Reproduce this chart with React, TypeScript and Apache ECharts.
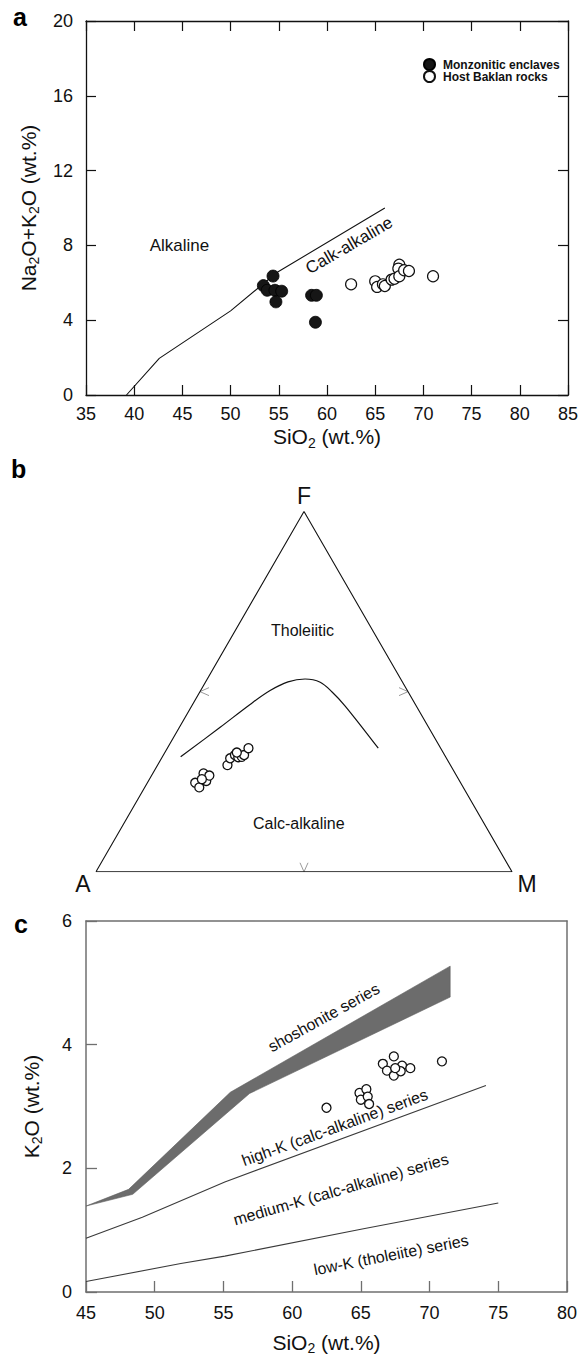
import React, { useEffect, useRef } from "react";
import * as echarts from "echarts";

const FONT = "'Liberation Sans', Arial, Helvetica, sans-serif";
const INK = "#111111";
const FRAME_C = "#6f6f6f";

// ---- Panel a: total alkalis vs silica ----
const enclaveSiO2 = [53.4, 54.4, 53.8, 54.6, 55.3, 54.7, 58.4, 58.9, 58.8];
const enclaveAlkali = [5.85, 6.36, 5.6, 5.6, 5.55, 4.98, 5.33, 5.33, 3.89];
const hostSiO2 = [62.5, 65.0, 65.2, 65.8, 66.0, 66.7, 67.0, 67.5, 67.4, 67.5, 68.0, 68.5, 71.0];
const hostAlkali = [5.92, 6.08, 5.78, 5.92, 5.83, 6.17, 6.22, 6.97, 6.76, 6.35, 6.67, 6.63, 6.35];
const alkalineDivideSiO2 = [39.2, 42.6, 50.0, 54.8, 66.0];
const alkalineDivideAlkali = [0, 1.96, 4.5, 6.55, 10.0];
const siO2TicksA = { min: 35, max: 85, step: 5 };
const alkaliTicks = { min: 0, max: 20, step: 4 };

// ---- Panel b: AFM ternary (A, F, M in %) ----
const afmA = [63.8, 63.4, 60.5, 60.9, 59.4, 61.7, 53.6, 52.0, 50.4, 49.9, 49.0, 48.2, 46.2, 49.6];
const afmF = [24.7, 23.4, 27.3, 25.2, 26.7, 25.7, 29.6, 31.5, 32.4, 31.8, 31.9, 32.4, 34.3, 33.1];
const afmM = [11.5, 13.1, 12.2, 13.9, 13.9, 12.6, 16.8, 16.5, 17.2, 18.3, 19.1, 19.4, 19.5, 17.3];
const afmDivideA = [63.7, 50.1, 39.7, 33.0, 27.5, 23.0, 19.8, 18.3, 17.1, 15.0];
const afmDivideF = [31.9, 40.1, 46.4, 50.3, 52.7, 53.5, 52.6, 49.9, 46.0, 34.3];
const afmDivideM = [4.4, 9.8, 13.8, 16.7, 19.8, 23.5, 27.6, 31.8, 36.9, 50.7];
const afmVertexNames = ["A", "F", "M"];

// ---- Panel c: K2O vs silica ----
const k2oSiO2 = [62.5, 64.9, 65.4, 65.0, 65.5, 65.6, 66.6, 67.4, 66.9, 67.4, 68.0, 67.9, 68.6, 67.5, 70.9];
const k2oValues = [2.98, 3.22, 3.28, 3.11, 3.16, 3.04, 3.69, 3.81, 3.58, 3.5, 3.66, 3.57, 3.62, 3.62, 3.73];
const shoshUpperSiO2 = [45, 48.1, 55.5, 71.5];
const shoshUpperK2O = [1.39, 1.66, 3.23, 5.27];
const shoshLowerSiO2 = [45, 48.4, 56.9, 71.5];
const shoshLowerK2O = [1.39, 1.58, 3.21, 4.77];
const highKSiO2 = [45, 49.1, 55.1, 74.1];
const highKK2O = [0.87, 1.21, 1.78, 3.34];
const lowKSiO2 = [45, 51.9, 55.1, 65.1, 75.0];
const lowKK2O = [0.17, 0.46, 0.58, 1.02, 1.44];
const siO2TicksC = { min: 45, max: 80, step: 5 };
const k2oTicks = { min: 0, max: 6, step: 2 };

const SQ3_2 = Math.sqrt(3) / 2;
const afmToXY = (a: number, f: number, m: number) => {
  const s = a + f + m;
  return [(m + f / 2) / s, (f / s) * SQ3_2];
};
const zip = (xs: number[], ys: number[]) => xs.map((x, i) => [x, ys[i]]);

const axisTitle = (size: number) => ({
  fontSize: size,
  fontFamily: FONT,
  color: INK,
  lineHeight: 26,
  rich: {
    sub: { fontSize: 14, lineHeight: 14, verticalAlign: "bottom", fontFamily: FONT, color: INK },
  },
});

function buildOption() {
  const tickLabel = { fontSize: 18, fontFamily: FONT, color: INK };
  const lineA = { show: true, onZero: false, lineStyle: { color: INK, width: 1.3 } };
  const lineC = { show: true, onZero: false, lineStyle: { color: FRAME_C, width: 1.5 } };
  const tickA = { show: true, inside: true, length: 10, lineStyle: { color: INK, width: 1.2 } };
  const tickC = { show: true, inside: true, length: 11, lineStyle: { color: FRAME_C, width: 1.3 } };

  const triangle = [
    afmToXY(100, 0, 0),
    afmToXY(0, 0, 100),
    afmToXY(0, 100, 0),
    afmToXY(100, 0, 0),
  ];
  const midpoints = [afmToXY(50, 50, 0), afmToXY(0, 50, 50), afmToXY(50, 0, 50)];
  const inward = [
    [1, 0],
    [-1, 0],
    [0, -1],
  ];

  const textA = (text: string, x: number, y: number, size: number, rotate = 0) => ({
    value: [x, y],
    label: { formatter: text, fontSize: size, rotate },
  });
  const labelSeriesBase = {
    type: "scatter",
    symbolSize: 1,
    itemStyle: { color: "rgba(0,0,0,0)", opacity: 1 },
    silent: true,
    z: 6,
  };

  return {
    animation: false,
    backgroundColor: "#ffffff",
    textStyle: { fontFamily: FONT },
    grid: [
      { left: 86, top: 21, width: 482, height: 374 },
      { left: 96, top: 511.5, width: 416, height: 416 * SQ3_2 },
      { left: 86, top: 921, width: 481, height: 373 },
    ],
    legend: {
      show: true,
      orient: "vertical",
      left: 418,
      top: 53,
      itemWidth: 11,
      itemHeight: 11,
      itemGap: -1,
      icon: "circle",
      selectedMode: false,
      data: ["Monzonitic enclaves", "Host Baklan rocks"],
      textStyle: { fontSize: 12, fontWeight: "bold", fontFamily: FONT, color: INK, padding: [0, 0, 0, 3] },
    },
    xAxis: [
      {
        gridIndex: 0,
        type: "value",
        position: "bottom",
        min: siO2TicksA.min,
        max: siO2TicksA.max,
        interval: siO2TicksA.step,
        axisLine: lineA,
        axisTick: tickA,
        splitLine: { show: false },
        axisLabel: { ...tickLabel, margin: 10 },
        name: "SiO{sub|2} (wt.%)",
        nameLocation: "middle",
        nameGap: 24,
        nameTextStyle: axisTitle(21),
      },
      {
        gridIndex: 0,
        type: "value",
        position: "top",
        min: siO2TicksA.min,
        max: siO2TicksA.max,
        interval: siO2TicksA.step,
        axisLine: lineA,
        axisTick: tickA,
        splitLine: { show: false },
        axisLabel: { show: false },
      },
      { gridIndex: 1, type: "value", min: 0, max: 1, show: false },
      {
        gridIndex: 2,
        type: "value",
        position: "bottom",
        min: siO2TicksC.min,
        max: siO2TicksC.max,
        interval: siO2TicksC.step,
        axisLine: lineC,
        axisTick: tickC,
        splitLine: { show: false },
        axisLabel: { ...tickLabel, margin: 12 },
        name: "SiO{sub|2} (wt.%)",
        nameLocation: "middle",
        nameGap: 37,
        nameTextStyle: axisTitle(21),
      },
      {
        gridIndex: 2,
        type: "value",
        position: "top",
        min: siO2TicksC.min,
        max: siO2TicksC.max,
        axisLine: lineC,
        axisTick: { show: false },
        splitLine: { show: false },
        axisLabel: { show: false },
      },
    ],
    yAxis: [
      {
        gridIndex: 0,
        type: "value",
        position: "left",
        min: alkaliTicks.min,
        max: alkaliTicks.max,
        interval: alkaliTicks.step,
        axisLine: lineA,
        axisTick: tickA,
        splitLine: { show: false },
        axisLabel: { ...tickLabel, margin: 13 },
        name: "Na{sub|2}O+K{sub|2}O (wt.%)",
        nameLocation: "middle",
        nameGap: 45,
        nameTextStyle: axisTitle(21),
      },
      {
        gridIndex: 0,
        type: "value",
        position: "right",
        min: alkaliTicks.min,
        max: alkaliTicks.max,
        interval: alkaliTicks.step,
        axisLine: lineA,
        axisTick: tickA,
        splitLine: { show: false },
        axisLabel: { show: false },
      },
      { gridIndex: 1, type: "value", min: 0, max: SQ3_2, show: false },
      {
        gridIndex: 2,
        type: "value",
        position: "left",
        min: k2oTicks.min,
        max: k2oTicks.max,
        interval: k2oTicks.step,
        axisLine: lineC,
        axisTick: tickC,
        splitLine: { show: false },
        axisLabel: { ...tickLabel, margin: 14 },
        name: "K{sub|2}O (wt.%)",
        nameLocation: "middle",
        nameGap: 42,
        nameTextStyle: axisTitle(21),
      },
      {
        gridIndex: 2,
        type: "value",
        position: "right",
        min: k2oTicks.min,
        max: k2oTicks.max,
        axisLine: lineC,
        axisTick: { show: false },
        splitLine: { show: false },
        axisLabel: { show: false },
      },
    ],
    series: [
      // panel a
      {
        type: "line",
        xAxisIndex: 0,
        yAxisIndex: 0,
        data: zip(alkalineDivideSiO2, alkalineDivideAlkali),
        symbol: "none",
        lineStyle: { color: INK, width: 1.1 },
        silent: true,
      },
      {
        name: "Monzonitic enclaves",
        type: "scatter",
        xAxisIndex: 0,
        yAxisIndex: 0,
        data: zip(enclaveSiO2, enclaveAlkali),
        symbol: "circle",
        symbolSize: 12,
        itemStyle: { color: "#161616", borderColor: "#000", borderWidth: 0.8, opacity: 1 },
        z: 4,
      },
      {
        name: "Host Baklan rocks",
        type: "scatter",
        xAxisIndex: 0,
        yAxisIndex: 0,
        data: zip(hostSiO2, hostAlkali),
        symbol: "circle",
        symbolSize: 11,
        itemStyle: { color: "#ffffff", borderColor: INK, borderWidth: 1.2, opacity: 1 },
        z: 4,
      },
      {
        ...labelSeriesBase,
        xAxisIndex: 0,
        yAxisIndex: 0,
        label: { show: true, position: "inside", color: INK, fontFamily: FONT },
        data: [textA("Alkaline", 44.7, 7.97, 17), textA("Calk-alkaline", 62.3, 8.0, 17, 30)],
      },
      // panel b
      {
        type: "line",
        xAxisIndex: 2,
        yAxisIndex: 2,
        data: triangle,
        symbol: "none",
        lineStyle: { color: INK, width: 1.1 },
        silent: true,
      },
      {
        type: "line",
        xAxisIndex: 2,
        yAxisIndex: 2,
        data: afmDivideA.map((a, i) => afmToXY(a, afmDivideF[i], afmDivideM[i])),
        symbol: "none",
        smooth: 0.35,
        lineStyle: { color: INK, width: 1.2 },
        silent: true,
      },
      {
        name: "AFM samples",
        type: "scatter",
        xAxisIndex: 2,
        yAxisIndex: 2,
        data: afmA.map((a, i) => afmToXY(a, afmF[i], afmM[i])),
        symbol: "circle",
        symbolSize: 9,
        itemStyle: { color: "#ffffff", borderColor: INK, borderWidth: 1.3, opacity: 1 },
        z: 4,
      },
      {
        type: "custom",
        xAxisIndex: 2,
        yAxisIndex: 2,
        silent: true,
        data: midpoints,
        renderItem: (params: any, api: any) => {
          const p = api.coord([api.value(0), api.value(1)]);
          const [dx, dy] = inward[params.dataIndex];
          const nx = -dy;
          const ny = dx;
          return {
            type: "polyline",
            shape: {
              points: [
                [p[0] + dx * 9 + nx * 4, p[1] + dy * 9 + ny * 4],
                [p[0], p[1]],
                [p[0] + dx * 9 - nx * 4, p[1] + dy * 9 - ny * 4],
              ],
            },
            style: { stroke: "#9a9a9a", fill: "none", lineWidth: 1 },
          };
        },
      },
      {
        ...labelSeriesBase,
        xAxisIndex: 2,
        yAxisIndex: 2,
        label: { show: true, position: "inside", color: INK, fontFamily: FONT, fontSize: 16 },
        data: [
          { value: afmToXY(16.8, 67.1, 16.1), label: { formatter: "Tholeiitic" } },
          { value: afmToXY(44.6, 13.3, 42.1), label: { formatter: "Calc-alkaline" } },
          { value: afmToXY(100, 0, 0), label: { formatter: afmVertexNames[0], fontSize: 23, offset: [-13, 12] } },
          { value: afmToXY(0, 100, 0), label: { formatter: afmVertexNames[1], fontSize: 23, offset: [0, -16] } },
          { value: afmToXY(0, 0, 100), label: { formatter: afmVertexNames[2], fontSize: 23, offset: [15, 12] } },
        ],
      },
      // panel c
      {
        type: "custom",
        xAxisIndex: 3,
        yAxisIndex: 3,
        silent: true,
        clip: false,
        data: [[shoshUpperSiO2[0], shoshUpperK2O[0]]],
        renderItem: (_params: any, api: any) => {
          const upper = zip(shoshUpperSiO2, shoshUpperK2O).map((p) => api.coord(p));
          const lower = zip(shoshLowerSiO2, shoshLowerK2O)
            .reverse()
            .map((p) => api.coord(p));
          return {
            type: "polygon",
            shape: { points: upper.concat(lower) },
            style: { fill: "#6c6c6c", stroke: "#5e5e5e", lineWidth: 0.6 },
          };
        },
      },
      {
        type: "line",
        xAxisIndex: 3,
        yAxisIndex: 3,
        data: zip(highKSiO2, highKK2O),
        symbol: "none",
        lineStyle: { color: "#3a3a3a", width: 1.1 },
        silent: true,
      },
      {
        type: "line",
        xAxisIndex: 3,
        yAxisIndex: 3,
        data: zip(lowKSiO2, lowKK2O),
        symbol: "none",
        lineStyle: { color: "#3a3a3a", width: 1.1 },
        silent: true,
      },
      {
        name: "K2O samples",
        type: "scatter",
        xAxisIndex: 3,
        yAxisIndex: 3,
        data: zip(k2oSiO2, k2oValues),
        symbol: "circle",
        symbolSize: 9,
        itemStyle: { color: "#ffffff", borderColor: INK, borderWidth: 1.3, opacity: 1 },
        z: 4,
      },
      {
        ...labelSeriesBase,
        xAxisIndex: 3,
        yAxisIndex: 3,
        label: { show: true, position: "inside", color: INK, fontFamily: FONT },
        data: [
          textA("shoshonite series", 62.3, 4.44, 16, 29),
          textA("high-K (calc-alkaline) series", 63.1, 2.66, 16, 20),
          textA("medium-K (calc-alkaline) series", 63.55, 1.66, 16, 16),
          textA("low-K (tholeiite) series", 67.2, 0.6, 16, 11),
        ],
      },
    ],
    graphic: [
      { type: "text", left: 13, top: 4, style: { text: "a", font: `bold 25px ${FONT}`, fill: "#000" } },
      { type: "text", left: 11, top: 456, style: { text: "b", font: `bold 25px ${FONT}`, fill: "#000" } },
      { type: "text", left: 14, top: 911, style: { text: "c", font: `bold 25px ${FONT}`, fill: "#000" } },
    ],
  };
}

export default function App() {
  const ref = useRef<HTMLDivElement>(null);
  useEffect(() => {
    if (!ref.current) return;
    const chart = echarts.init(ref.current, null, { renderer: "svg" });
    chart.setOption(buildOption() as any);
    return () => chart.dispose();
  }, []);
  return (
    <div
      ref={ref}
      style={{ position: "absolute", left: 0, top: 0, width: 585, height: 1356, background: "#ffffff" }}
    />
  );
}
